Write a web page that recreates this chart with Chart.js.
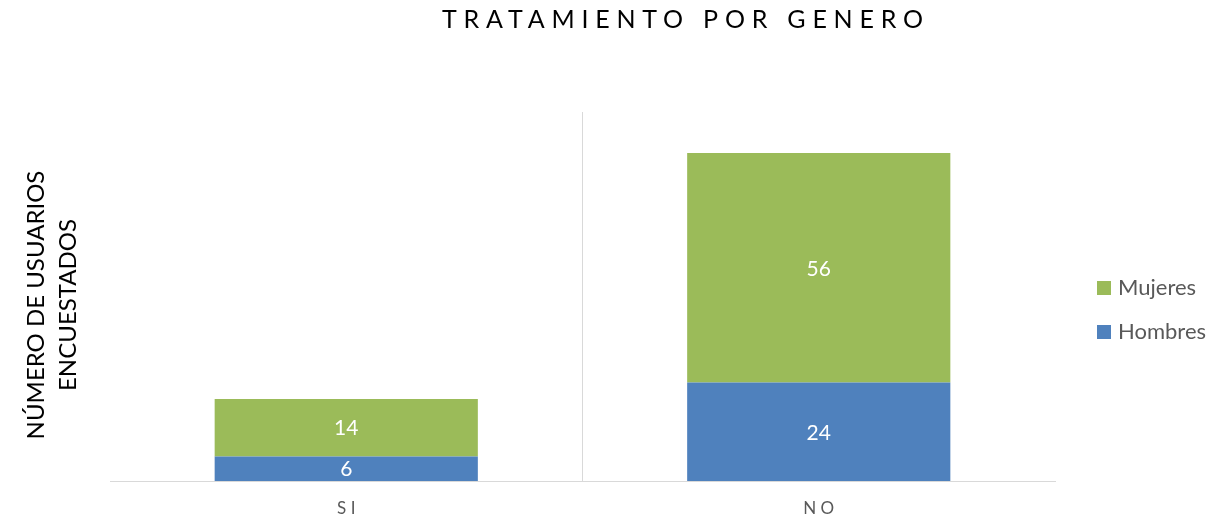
<!DOCTYPE html>
<html>
<head>
<meta charset="utf-8">
<script src="https://cdn.jsdelivr.net/npm/chart.js@4"></script>
<style>
  html, body { margin: 0; padding: 0; background: #fff; }
</style>
</head>
<body>
<canvas id="chart" width="1208" height="521"></canvas>
<script>
"use strict";

// data
const categories = ["SI", "NO"];
const hombres = [6, 24];
const mujeres = [14, 56];
const titleText = "TRATAMIENTO POR GENERO";
const yTitleLines = ["NÚMERO DE USUARIOS", "ENCUESTADOS"];

const FONT = "Lato, 'Open Sans', sans-serif";
const GREY = "#595959";

// value labels inside each stacked segment
const valueLabels = {
  id: "valueLabels",
  afterDatasetsDraw(chart) {
    const ctx = chart.ctx;
    ctx.save();
    ctx.font = "21px " + FONT;
    ctx.fillStyle = "#ffffff";
    ctx.textAlign = "center";
    ctx.textBaseline = "middle";
    chart.data.datasets.forEach((ds, i) => {
      chart.getDatasetMeta(i).data.forEach((bar, j) => {
        const p = bar.getProps(["x", "y", "base"], true);
        ctx.fillText(ds.data[j], p.x, (p.y + p.base) / 2 + 1);
      });
    });
    ctx.restore();
  }
};

// spaced title, rotated y title and the legend on the right
const decorations = {
  id: "decorations",
  afterDraw(chart) {
    const ctx = chart.ctx;
    ctx.save();

    // main title with letter spacing
    ctx.font = "25px " + FONT;
    ctx.fillStyle = "#000000";
    ctx.textBaseline = "alphabetic";
    ctx.textAlign = "left";
    const w0 = ctx.measureText(titleText).width;
    const gap = (481 - w0) / (titleText.length - 1);
    ctx.letterSpacing = gap + "px";
    ctx.fillText(titleText, 442, 28);
    ctx.letterSpacing = "0px";

    // y axis title, two lines
    ctx.font = "24px " + FONT;
    ctx.textAlign = "center";
    [44, 76].forEach((bx, k) => {
      ctx.save();
      ctx.translate(bx, 305);
      ctx.rotate(-Math.PI / 2);
      ctx.fillText(yTitleLines[k], 0, 0);
      ctx.restore();
    });

    // legend (reversed: Mujeres on top)
    ctx.font = "22px " + FONT;
    ctx.textAlign = "left";
    ctx.textBaseline = "middle";
    const items = chart.data.datasets.slice().reverse();
    items.forEach((ds, k) => {
      const cy = 288 + k * 44;
      ctx.fillStyle = ds.backgroundColor;
      ctx.fillRect(1097, cy - 7, 14, 14);
      ctx.fillStyle = GREY;
      ctx.fillText(ds.label, 1118, cy);
    });

    ctx.restore();
  }
};

const ctxC = document.getElementById("chart").getContext("2d");
const chart = new Chart(ctxC, {
  type: "bar",
  data: {
    labels: categories,
    datasets: [
      {
        label: "Hombres",
        data: hombres,
        backgroundColor: "#4F81BD",
        barPercentage: 0.557,
        categoryPercentage: 1.0
      },
      {
        label: "Mujeres",
        data: mujeres,
        backgroundColor: "#9BBB59",
        barPercentage: 0.557,
        categoryPercentage: 1.0
      }
    ]
  },
  options: {
    responsive: false,
    animation: false,
    devicePixelRatio: 1,
    layout: {
      padding: { top: 112, left: 110, right: 153, bottom: 0 }
    },
    plugins: {
      legend: { display: false },
      title: { display: false },
      tooltip: { enabled: false }
    },
    scales: {
      x: {
        stacked: true,
        offset: true,
        grid: {
          offset: true,
          drawTicks: false,
          lineWidth: 1,
          color: c => (c.index === 1 ? "#D9D9D9" : "rgba(0,0,0,0)")
        },
        border: { display: true, color: "#D9D9D9", width: 1 },
        ticks: {
          color: GREY,
          font: { family: FONT, size: 17 },
          padding: 17,
          callback: function (v, i) {
            return categories[i].split("").join(" ");
          }
        },
        afterFit: scale => { scale.height = 40; }
      },
      y: {
        stacked: true,
        display: false,
        min: 0,
        max: 90
      }
    }
  },
  plugins: [valueLabels, decorations]
});
</script>
</body>
</html>
